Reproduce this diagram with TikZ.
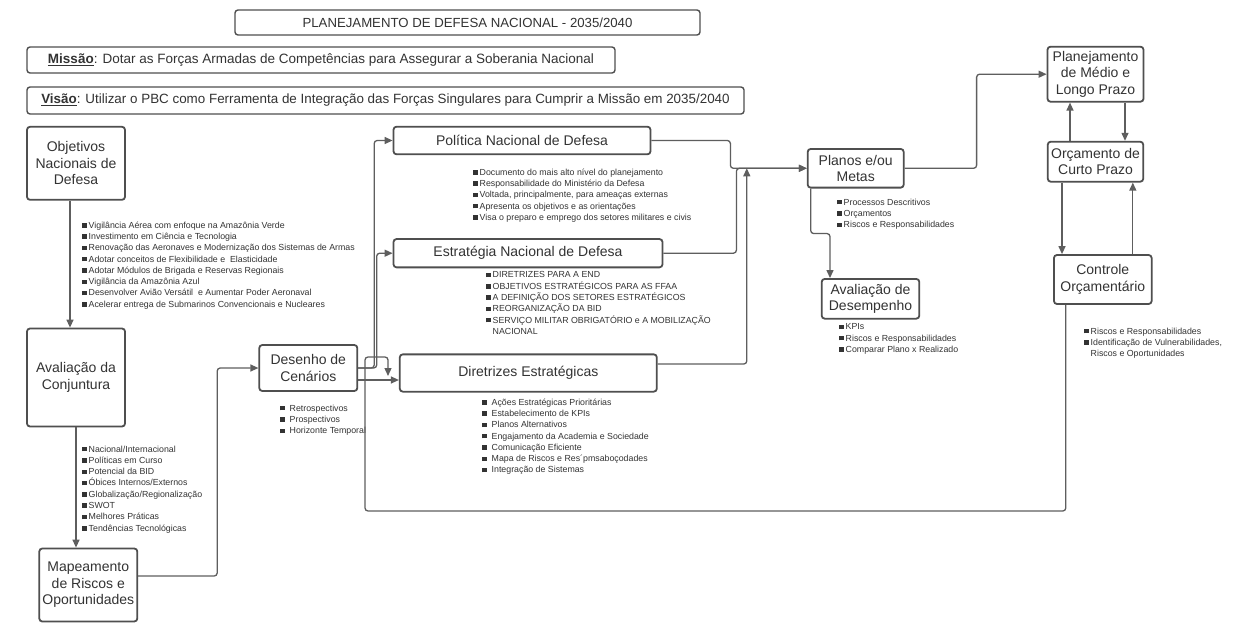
\documentclass[tikz,border=0pt]{standalone}
\usepackage{fontspec}
\setmainfont{Liberation Sans}
\usetikzlibrary{arrows.meta,calc}
\definecolor{ln}{HTML}{5E5E5E}
\definecolor{bd}{HTML}{4F4F4F}
\definecolor{tx}{HTML}{333333}
\newcommand{\bsq}{\textcolor{tx}{\rule[0.6pt]{4.5pt}{4.5pt}}\hspace{2pt}}
\newcommand{\bsqw}{\textcolor{tx}{\rule[0.6pt]{4.5pt}{4.5pt}}\hspace{5pt}}
\begin{document}
\begin{tikzpicture}[x=1pt,y=-1pt,
 box/.style={draw=bd, line width=1.8pt, rounded corners=3pt, fill=white, text=tx, align=center, inner sep=0pt, font=\fontsize{14}{16.5}\selectfont},
 hdr/.style={draw=bd, line width=1.4pt, rounded corners=3pt, text=tx, inner sep=0pt},
 con/.style={draw=ln, line width=1.3pt, rounded corners=3pt, -{Triangle[length=8pt,width=7pt]}},
 lst/.style={anchor=north west, align=left, inner sep=0pt, text=tx, font=\fontsize{8.8}{11.3}\selectfont}]
\useasboundingbox[fill=white] (0,0) rectangle (1253,631);

% header boxes
\node[hdr, minimum width=465pt, minimum height=25pt, font=\fontsize{13.2}{15}\selectfont] (title) at (467.5,22.5) {PLANEJAMENTO DE DEFESA NACIONAL - 2035/2040};
\node[hdr, minimum width=588pt, minimum height=26pt, font=\fontsize{13.5}{15}\selectfont] (missao) at (321,60) {\underline{\textbf{Missão}}: Dotar as Forças Armadas de Competências para Assegurar a Soberania Nacional};
\node[hdr, minimum width=717pt, minimum height=27pt, font=\fontsize{13.4}{15}\selectfont] (visao) at (385.5,100.5) {\underline{\textbf{Visão}}: Utilizar o PBC como Ferramenta de Integração das Forças Singulares para Cumprir a Missão em 2035/2040};

% main boxes
\node[box, minimum width=98pt, minimum height=73pt] (obj) at (76,163.3) {Objetivos\\Nacionais de\\Defesa};
\node[box, minimum width=98pt, minimum height=98pt] (aval) at (76,377.5) {Avaliação da\\Conjuntura};
\node[box, minimum width=98pt, minimum height=73pt] (mapa) at (88.3,585) {Mapeamento\\de Riscos e\\Oportunidades};
\node[box, minimum width=98pt, minimum height=46pt] (des) at (308.3,368) {Desenho de\\Cenários};
\node[box, minimum width=257pt, minimum height=27.6pt] (pnd) at (522,140.5) {Política Nacional de Defesa};
\node[box, minimum width=269pt, minimum height=28.3pt] (end) at (528,253.2) {Estratégia Nacional de Defesa};
\node[box, minimum width=257pt, minimum height=37.3pt] (dir) at (528.3,373) {Diretrizes Estratégicas};
\node[box, minimum width=96pt, minimum height=38.7pt] (planos) at (855.7,168.3) {Planos e/ou\\Metas};
\node[box, minimum width=97.6pt, minimum height=39.7pt] (avdes) at (870.5,298.8) {Avaliação de\\Desempenho};
\node[box, minimum width=96pt, minimum height=55pt] (plmlp) at (1095.5,74.2) {Planejamento\\de Médio e\\Longo Prazo};
\node[box, minimum width=95.5pt, minimum height=40pt] (orc) at (1095.5,161.7) {Orçamento de\\Curto Prazo};
\node[box, minimum width=97.7pt, minimum height=49pt] (ctrl) at (1102.8,279.5) {Controle\\Orçamentário};

% lists
\node[lst] (objl) at (82,221.5) {\bsq Vigilância Aérea com enfoque na Amazônia Verde\\
\bsq Investimento em Ciência e Tecnologia\\
\bsq Renovação das Aeronaves e Modernização dos Sistemas de Armas\\
\bsq Adotar conceitos de Flexibilidade e \ Elasticidade\\
\bsq Adotar Módulos de Brigada e Reservas Regionais\\
\bsq Vigilância da Amazônia Azul\\
\bsq Desenvolver Avião Versátil \ e Aumentar Poder Aeronaval\\
\bsq Acelerar entrega de Submarinos Convencionais e Nucleares};

\node[lst] (pndl) at (473,168.5) {\bsq Documento do mais alto nível do planejamento\\
\bsq Responsabilidade do Ministério da Defesa\\
\bsq Voltada, principalmente, para ameaças externas\\
\bsq Apresenta os objetivos e as orientações\\
\bsq Visa o preparo e emprego dos setores militares e civis};

\node[lst] (endl) at (486,271.5) {\bsq DIRETRIZES PARA A END\\
\bsq OBJETIVOS ESTRATÉGICOS PARA AS FFAA\\
\bsq A DEFINIÇÃO DOS SETORES ESTRATÉGICOS\\
\bsq REORGANIZAÇÃO DA BID\\
\bsq SERVIÇO MILITAR OBRIGATÓRIO e A MOBILIZAÇÃO\\
\phantom{\bsq}NACIONAL};

\node[lst] (desl) at (280,404.5) {\bsqw Retrospectivos\\
\bsqw Prospectivos\\
\bsqw Horizonte Temporal};

\node[lst] (dirl) at (482,398.5) {\bsqw Ações Estratégicas Prioritárias\\
\bsqw Estabelecimento de KPIs\\
\bsqw Planos Alternativos\\
\bsqw Engajamento da Academia e Sociedade\\
\bsqw Comunicação Eficiente\\
\bsqw Mapa de Riscos e Res´pmsaboçodades\\
\bsqw Integração de Sistemas};

\node[lst] (avl) at (82,445.5) {\bsq Nacional/Internacional\\
\bsq Políticas em Curso\\
\bsq Potencial da BID\\
\bsq Óbices Internos/Externos\\
\bsq Globalização/Regionalização\\
\bsq SWOT\\
\bsq Melhores Práticas\\
\bsq Tendências Tecnológicas};

\node[lst] (plal) at (837,198.5) {\bsq Processos Descritivos\\
\bsq Orçamentos\\
\bsq Riscos e Responsabilidades};

\node[lst] (avdl) at (839,323.5) {\bsq KPIs\\
\bsq Riscos e Responsabilidades\\
\bsq Comparar Plano x Realizado};

\node[lst] (ctrll) at (1084,327.5) {\bsq Riscos e Responsabilidades\\
\bsq Identificação de Vulnerabilidades,\\
\phantom{\bsq}Riscos e Oportunidades};

% connectors
\coordinate (loopend) at (388,376);
\draw[con] ([xshift=-6pt]obj.south) -- ([xshift=-6pt]obj.south |- aval.north);
\draw[con] (aval.south) -- (aval.south |- mapa.north);
\draw[con] ([yshift=9pt]mapa.east) -- ++(79,0) |- (des.west);
\draw[con] (des.east) -- ++(16,0) |- (pnd.west);
\draw[con] (des.east) -- ++(18.5,0) |- (end.west);
\draw[con] ([yshift=-12pt]des.east) -- ([yshift=-12pt]des.east -| dir.west);
\draw[con] ([xshift=-37pt]ctrl.south) |- (365,511) -- (365,357) -| (loopend);
\draw[con] (pnd.east) -- ++(79,0) |- (planos.west);
\draw[con] (end.east) -- ++(73,0) |- (planos.west);
\draw[con] ([yshift=9pt]dir.east) -| ([xshift=-60pt]planos.west);
\draw[con] (planos.east) -- ++(72,0) |- (plmlp.west);
\draw[con] ([xshift=-45pt]planos.south) -- ++(0,45) -| ([xshift=-40.5pt]avdes.north);
\draw[con] ([xshift=-25.5pt]orc.north) -- ([xshift=-25.5pt]orc.north |- plmlp.south);
\draw[con] ([xshift=29.5pt]plmlp.south) -- ([xshift=29.5pt]plmlp.south |- orc.north);
\draw[con] ([xshift=-33.5pt]orc.south) -- ([xshift=-33.5pt]orc.south |- ctrl.north);
\draw[con] ([xshift=30pt]ctrl.north) -- ([xshift=30pt]ctrl.north |- orc.south);
\end{tikzpicture}
\end{document}
